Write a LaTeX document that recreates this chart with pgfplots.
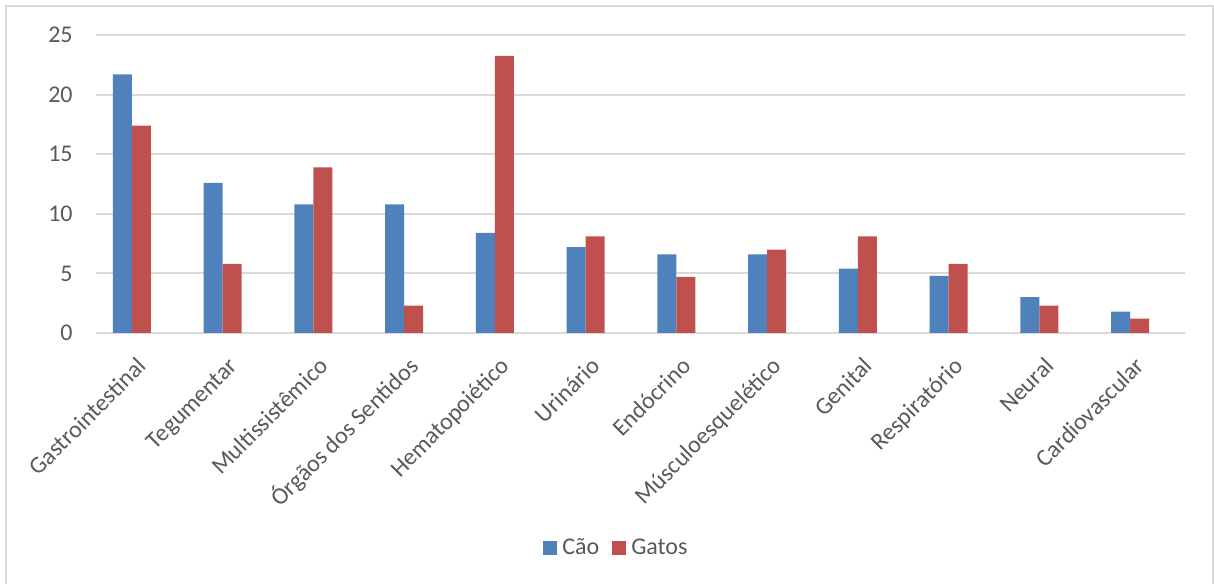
\documentclass[border=0pt]{standalone}
\usepackage{pgfplots}
\usepackage{pgfplotstable}
\pgfplotsset{compat=1.18}
\usepackage{fontspec}
\setmainfont{Carlito}
\definecolor{cao}{HTML}{4F81BD}
\definecolor{gato}{HTML}{C0504D}
\definecolor{gridc}{HTML}{D9D9D9}
\definecolor{txt}{HTML}{595959}
\pgfplotstableread{
x cao gato
0 21.7 17.4
1 12.6 5.8
2 10.8 13.9
3 10.8 2.3
4 8.4 23.25
5 7.2 8.1
6 6.6 4.7
7 6.6 7.0
8 5.4 8.1
9 4.8 5.8
10 3.0 2.3
11 1.8 1.2
}\data
\begin{document}
\begin{tikzpicture}
\useasboundingbox (0,0) rectangle (607pt,291.5pt);
\draw[gridc, line width=1pt] (3pt,-10pt) -- (3pt,288.5pt) -- (606.5pt,288.5pt) -- (606.5pt,-10pt);
\begin{axis}[
  at={(48pt,125pt)}, anchor=south west,
  scale only axis, width=544.5pt, height=149pt,
  xmin=-0.5, xmax=11.5, ymin=0, ymax=25,
  ytick={0,5,...,25},
  xtick={0,...,11},
  xticklabels={Gastrointestinal,Tegumentar,Multissistêmico,Órgãos dos Sentidos,Hematopoiético,Urinário,Endócrino,Músculoesquelético,Genital,Respiratório,Neural,Cardiovascular},
  axis line style={draw=none},
  major tick length=0pt,
  ymajorgrids, grid style={gridc, line width=1pt},
  tick label style={font=\fontsize{12}{14}\selectfont, text=txt},
  /pgf/number format/assume math mode=true,
  yticklabel style={anchor=east, inner sep=0pt, xshift=-11.5pt},
  xticklabel style={xshift=1.5pt, yshift=-15.5pt, rotate=45, anchor=east, inner sep=0pt, text height=0.7em, text depth=0.2em},
  ybar, bar width=0.2094,
  legend columns=2,
  legend style={at={(0.4788,-0.7215)}, anchor=center, draw=none, fill=none,
    font=\fontsize{12}{14}\selectfont, text=txt,
    /tikz/every even column/.append style={column sep=4.5pt}},
  legend image code/.code={\fill[#1] (0pt,-3.5pt) rectangle (7pt,3.5pt); \path (7.5pt,0pt);},
]
\addplot[fill=cao, draw=none, bar shift=-0.2094] table[x=x, y=cao] {\data};
\addlegendentry{Cão}
\addplot[fill=gato, draw=none, bar shift=0] table[x=x, y=gato] {\data};
\addlegendentry{Gatos}
\end{axis}
\end{tikzpicture}
\end{document}
